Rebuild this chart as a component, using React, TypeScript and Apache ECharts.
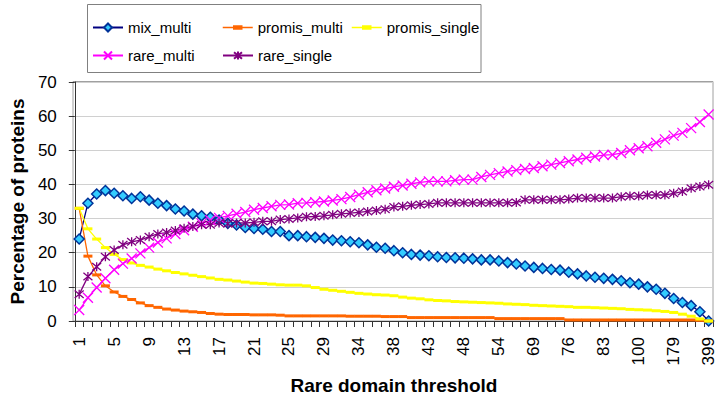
import React, { useEffect, useRef } from "react";
import * as echarts from "echarts";

const categories: string[] = [
  "1","2","3","4","5","6","7","8","9","10","11","12","13","14","15","16","17","18","19","20",
  "21","22","23","24","25","26","27","28","29","30","31","33","34","35","36","37","38","39","40","42",
  "43","44","45","47","48","49","51","52","54","57","61","65","69","71","73","75","76","78","80","82",
  "83","86","90","95","100","110","125","150","179","210","260","320","399",
];

const mixMulti: number[] = [
  24, 34.5, 37.2, 38.2, 37.4, 36.7, 35.9, 36.4, 35.4, 34.5, 33.8, 32.8, 32.2, 31.3, 30.8, 30.4, 29.6, 28.6, 28.1, 27.4,
  27.1, 26.9, 26.2, 26.2, 25.0, 25.0, 24.7, 24.5, 24.2, 23.7, 23.5, 23.2, 22.9, 22.3, 21.6, 21.3, 20.6, 20.0, 19.5, 19.3,
  19.1, 18.8, 18.6, 18.5, 18.4, 18.2, 17.9, 17.9, 17.6, 17.1, 16.7, 16.1, 15.7, 15.4, 15.1, 14.9, 14.3, 13.8, 13.2, 12.8,
  12.5, 12.2, 11.8, 11.2, 10.8, 10.0, 9.3, 8.1, 6.6, 5.4, 4.5, 2.7, 0,
];

const promisMulti: number[] = [
  33, 19, 13.5, 10.3, 8.5, 7.2, 6.3, 5.3, 4.5, 4.0, 3.5, 3.2, 2.9, 2.7, 2.5, 2.2, 2.0, 1.9, 1.9, 1.9,
  1.8, 1.8, 1.8, 1.7, 1.5, 1.5, 1.5, 1.5, 1.5, 1.5, 1.5, 1.4, 1.4, 1.4, 1.4, 1.3, 1.3, 1.3, 1.0, 1.0,
  1.0, 1.0, 1.0, 1.0, 1.0, 1.0, 1.0, 1.0, 0.7, 0.7, 0.7, 0.7, 0.7, 0.7, 0.7, 0.7, 0.3, 0.3, 0.3, 0.3,
  0.3, 0.3, 0.3, 0.3, 0.3, 0.3, 0.3, 0.3, 0.3, 0.3, 0.3, 0.2, 0,
];

const promisSingle: number[] = [
  33, 27, 24, 21.5, 19.5, 18, 17, 16.3, 15.8, 15.2, 14.7, 14.2, 13.8, 13.4, 13, 12.6, 12.2, 12, 11.7, 11.4,
  11.1, 11, 10.8, 10.6, 10.5, 10.5, 10.3, 9.8, 9.3, 9.0, 8.7, 8.4, 8.1, 7.9, 7.7, 7.6, 7.4, 7.0, 6.7, 6.5,
  6.2, 6.0, 5.9, 5.7, 5.6, 5.5, 5.4, 5.3, 5.2, 5.0, 4.9, 4.8, 4.6, 4.5, 4.4, 4.3, 4.2, 4.0, 4.0, 3.9,
  3.8, 3.7, 3.6, 3.4, 3.3, 3.2, 3.0, 2.8, 2.5, 2.0, 1.4, 0.6, 0,
];

const rareMulti: number[] = [
  3.2, 6.8, 9.8, 12.5, 15, 16.8, 18.3, 19.8, 21.5, 23, 24.2, 25.5, 26.6, 27.6, 28.6, 29.5, 30.2, 30.8, 31.4, 31.9,
  32.6, 33.1, 33.6, 34.0, 34.1, 34.5, 34.6, 34.8, 35.0, 35.3, 35.7, 36.3, 37.0, 37.7, 38.3, 38.8, 39.3, 39.7, 40.2, 40.6,
  40.9, 40.9, 40.9, 41.2, 41.4, 41.4, 42.2, 42.8, 43.3, 43.8, 44.2, 44.5, 44.8, 45.3, 45.8, 46.3, 46.8, 47.3, 47.8, 48.2,
  48.6, 48.7, 49.2, 50.0, 50.6, 51.2, 52.2, 53.2, 54.3, 55.1, 56.5, 58.3, 60.5,
];

const rareSingle: number[] = [
  7.8, 13.0, 15.9, 18.8, 20.8, 22.3, 23.2, 23.7, 24.7, 25.5, 25.9, 26.5, 27.2, 27.7, 28.2, 28.2, 28.7, 28.5, 28.7, 28.7,
  28.9, 29.2, 29.2, 29.7, 29.9, 30.2, 30.5, 30.6, 30.8, 31.1, 31.4, 31.6, 31.8, 32.1, 32.4, 32.7, 33.4, 33.6, 33.9, 34.1,
  34.3, 34.6, 34.6, 34.6, 34.6, 34.6, 34.6, 34.6, 34.6, 34.6, 34.7, 35.5, 35.5, 35.5, 35.5, 35.5, 35.7, 36.0, 36.0, 36.0,
  36.0, 36.0, 36.4, 36.6, 36.6, 36.9, 36.9, 36.9, 37.4, 37.9, 38.9, 39.4, 39.9,
];

const yTicks = { min: 0, max: 70, interval: 10 };

const FONT = "'Liberation Sans', Arial, sans-serif";

const X_PATH = "path://M0,0L10,10M10,0L0,10";
const STAR_PATH = "path://M0,0L10,10M10,0L0,10M5,-1L5,11";
const DASH_ICON = "path://M0,5L30,5M11,3.5L19,3.5L19,6.5L11,6.5Z";

export default function App() {
  const ref = useRef<HTMLDivElement>(null);
  useEffect(() => {
    if (!ref.current) return;
    const chart = echarts.init(ref.current, undefined, { renderer: "svg" });
    const legendText = { fontFamily: FONT, fontSize: 15, color: "#000" };
    const mkLegend = (name: string, left: number, top: number, dashColor?: string) => ({
      data: [
        dashColor
          ? {
              name,
              icon: DASH_ICON,
              itemStyle: { color: dashColor, borderColor: dashColor, borderWidth: 1.5 },
            }
          : name,
      ],
      left,
      top,
      padding: 0,
      itemWidth: 30,
      itemHeight: 10,
      textStyle: legendText,
      selectedMode: false,
    });
    chart.setOption({
      animation: false,
      backgroundColor: "#fff",
      graphic: [
        {
          type: "rect",
          shape: { x: 87.5, y: 4.5, width: 393.5, height: 68 },
          style: { fill: "#fff", stroke: "#808080", lineWidth: 1 },
          z: -1,
        },
        {
          type: "rect",
          shape: { x: 73, y: 81.5, width: 640, height: 239.5 },
          style: { fill: "none", stroke: "#a0a0a0", lineWidth: 1 },
          z: -1,
        },
      ],
      legend: [
        mkLegend("mix_multi", 92, 20),
        mkLegend("promis_multi", 222, 20, "#FF6600"),
        mkLegend("promis_single", 351, 20, "#FFFF00"),
        mkLegend("rare_multi", 92, 48),
        mkLegend("rare_single", 222, 48),
      ],
      grid: { left: 73, right: 8, top: 82, bottom: 81, containLabel: false },
      xAxis: {
        type: "category",
        data: categories,
        boundaryGap: true,
        name: "Rare domain threshold",
        nameLocation: "middle",
        nameGap: 55,
        nameTextStyle: { fontFamily: FONT, fontSize: 19, fontWeight: "bold", color: "#000" },
        axisLine: { lineStyle: { color: "#333", width: 1 } },
        axisTick: { show: true, interval: 0, length: 6, lineStyle: { color: "#333" } },
        axisLabel: {
          interval: 3,
          rotate: 90,
          margin: 16,
          fontFamily: FONT,
          fontSize: 17,
          color: "#000",
        },
        splitLine: { show: false },
      },
      yAxis: {
        type: "value",
        min: yTicks.min,
        max: yTicks.max,
        interval: yTicks.interval,
        name: "Percentage of proteins",
        nameLocation: "middle",
        nameGap: 41,
        nameTextStyle: { fontFamily: FONT, fontSize: 19, fontWeight: "bold", color: "#000" },
        axisLine: { show: true, lineStyle: { color: "#333", width: 1 } },
        axisTick: { show: true, length: 6, lineStyle: { color: "#333" } },
        axisLabel: { fontFamily: FONT, fontSize: 17, color: "#000", margin: 18 },
        splitLine: { show: true, lineStyle: { color: "#d0d0d0", width: 1 } },
      },
      series: [
        {
          name: "mix_multi",
          type: "line",
          data: mixMulti,
          symbol: "diamond",
          symbolSize: 10,
          showAllSymbol: true,
          lineStyle: { color: "#000080", width: 1.3 },
          itemStyle: { color: "#33CCFF", borderColor: "#003399", borderWidth: 1.5 },
        },
        {
          name: "promis_multi",
          type: "line",
          data: promisMulti,
          symbol: "rect",
          symbolSize: [9, 3],
          showAllSymbol: true,
          lineStyle: { color: "#FF6600", width: 1.3 },
          itemStyle: { color: "#FF6600", borderWidth: 0 },
        },
        {
          name: "promis_single",
          type: "line",
          data: promisSingle,
          symbol: "rect",
          symbolSize: [9, 3],
          showAllSymbol: true,
          lineStyle: { color: "#FFFF00", width: 1.3 },
          itemStyle: { color: "#FFFF00", borderWidth: 0 },
        },
        {
          name: "rare_multi",
          type: "line",
          data: rareMulti,
          symbol: X_PATH,
          symbolSize: 10,
          showAllSymbol: true,
          lineStyle: { color: "#FF00FF", width: 1.3 },
          itemStyle: { color: "rgba(0,0,0,0)", borderColor: "#FF00FF", borderWidth: 1.3 },
        },
        {
          name: "rare_single",
          type: "line",
          data: rareSingle,
          symbol: STAR_PATH,
          symbolSize: 9,
          showAllSymbol: true,
          lineStyle: { color: "#800080", width: 1.3 },
          itemStyle: { color: "rgba(0,0,0,0)", borderColor: "#800080", borderWidth: 1.3 },
        },
      ],
    });
    return () => chart.dispose();
  }, []);
  return <div ref={ref} style={{ width: 721, height: 402, position: "fixed", left: 0, top: 0 }} />;
}
